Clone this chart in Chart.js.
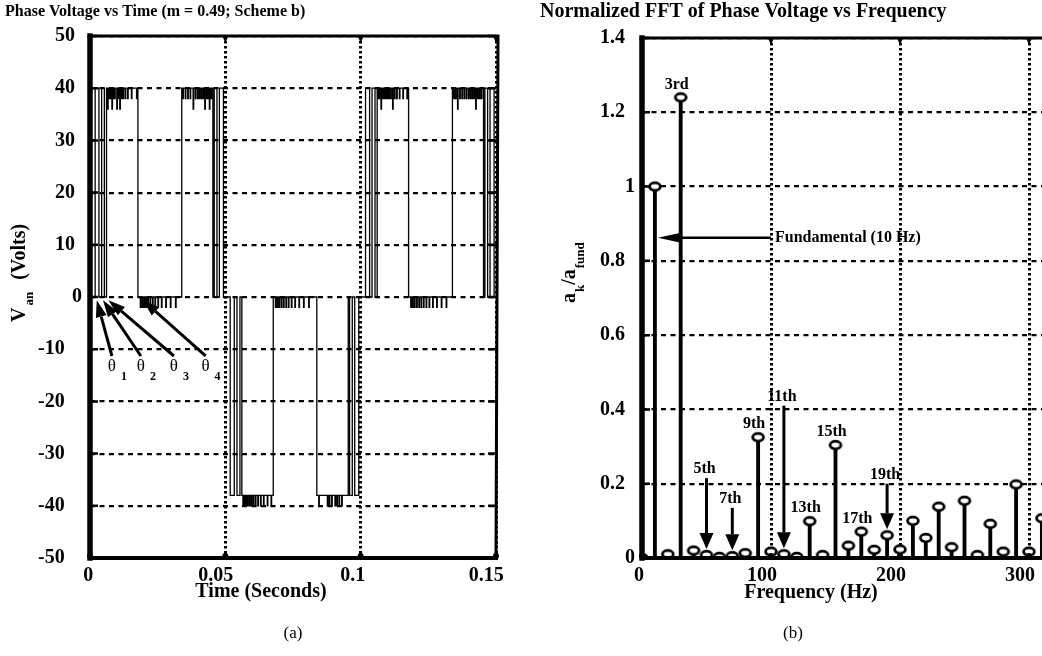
<!DOCTYPE html>
<html>
<head>
<meta charset="utf-8">
<script src="https://cdn.jsdelivr.net/npm/chart.js@4.4.1/dist/chart.umd.min.js"></script>
<style>
  html, body { margin: 0; padding: 0; background: #fff; overflow: hidden; }
  #page { position: relative; width: 1042px; height: 656px; overflow: hidden; }
  #wrapA { position: absolute; left: 0; top: 0; width: 540px; height: 656px; }
  #wrapB { position: absolute; left: 530px; top: 0; width: 580px; height: 656px; }
</style>
</head>
<body>
<div id="page">
  <div id="wrapA"><canvas id="voltChart"></canvas></div>
  <div id="wrapB"><canvas id="fftChart"></canvas></div>
</div>
<script>
// ---- (a) phase voltage, stepped: each [t, V] holds until the next point
const halfA = [
  [0, 0],
  [0.0019, 40], [0.0033, 0], [0.0043, 40], [0.0053, 0],
  [0.0061, 40], [0.0065, 36], [0.0067, 40], [0.0070, 38], [0.0072, 40], [0.0075, 38], [0.0077, 40],
  [0.0081, 36], [0.0083, 40], [0.0086, 38], [0.0088, 40], [0.0091, 38], [0.0093, 40], [0.0099, 36],
  [0.0101, 40], [0.0104, 38], [0.0106, 40], [0.0110, 36], [0.0112, 40], [0.0116, 38], [0.0118, 40],
  [0.0122, 38], [0.0124, 40], [0.0130, 38], [0.0132, 40], [0.0139, 38], [0.0141, 40], [0.0153, 38],
  [0.0155, 40], [0.0172, 38], [0.0174, 40],
  [0.0177, 0], [0.0186, -2], [0.0188, 0], [0.0193, -2], [0.0195, 0], [0.0200, -2], [0.0202, 0],
  [0.0207, -2], [0.0209, 0], [0.0214, -2], [0.0216, 0], [0.0222, -2], [0.0224, 0], [0.0231, -2],
  [0.0233, 0], [0.0240, -2], [0.0242, 0], [0.0251, -2], [0.0253, 0], [0.0264, -2], [0.0266, 0],
  [0.0280, -2], [0.0282, 0], [0.0297, -2], [0.0299, 0], [0.0316, -2], [0.0318, 0],
  [0.0339, 40], [0.0343, 38], [0.0345, 40], [0.0352, 38], [0.0354, 40], [0.0361, 38], [0.0363, 40],
  [0.0370, 38], [0.0372, 40], [0.0381, 36], [0.0383, 40], [0.0389, 38], [0.0391, 40], [0.0397, 38],
  [0.0399, 40], [0.0404, 38], [0.0406, 40], [0.0411, 38], [0.0413, 40], [0.0418, 38], [0.0420, 40],
  [0.0424, 36], [0.0426, 40], [0.0430, 38], [0.0432, 40], [0.0436, 38], [0.0438, 40], [0.0441, 36],
  [0.0443, 40], [0.0447, 38], [0.0449, 40],
  [0.0454, 0], [0.0459, 40], [0.0469, 0], [0.0478, 40], [0.0493, 0]
];
const halfB = [
  [0.0518, -38], [0.0533, 0], [0.0543, -38], [0.0554, 0],
  [0.0561, -38], [0.0565, -40], [0.0567, -38], [0.0570, -40], [0.0572, -38], [0.0576, -40], [0.0578, -38],
  [0.0582, -40], [0.0584, -38], [0.0589, -40], [0.0591, -38], [0.0596, -40], [0.0598, -38], [0.0603, -40],
  [0.0605, -38], [0.0611, -40], [0.0613, -38], [0.0620, -40], [0.0622, -38], [0.0630, -40], [0.0632, -38],
  [0.0641, -40], [0.0643, -38], [0.0655, -40], [0.0657, -38], [0.0669, -40], [0.0671, -38],
  [0.0677, 0], [0.0685, -2], [0.0687, 0], [0.0692, -2], [0.0694, 0], [0.0699, -2], [0.0701, 0],
  [0.0707, -2], [0.0709, 0], [0.0715, -2], [0.0717, 0], [0.0724, -2], [0.0726, 0], [0.0733, -2],
  [0.0735, 0], [0.0744, -2], [0.0746, 0], [0.0757, -2], [0.0759, 0], [0.0772, -2], [0.0774, 0],
  [0.0789, -2], [0.0791, 0], [0.0808, -2], [0.0810, 0],
  [0.0838, -38], [0.0845, -40], [0.0847, -38], [0.0877, -40], [0.0879, -38], [0.0884, -40], [0.0886, -38],
  [0.0893, -40], [0.0895, -38], [0.0905, -40], [0.0907, -38], [0.0912, -40], [0.0914, -38], [0.0920, -40],
  [0.0922, -38], [0.0930, -40], [0.0932, -38],
  [0.0954, 0], [0.0959, -38], [0.0969, 0], [0.0978, -38], [0.0993, 0]
];
const halfC = [
  [0.1018, 40], [0.1033, 0], [0.1042, 40], [0.1053, 0],
  [0.1061, 40], [0.1065, 38], [0.1067, 40], [0.1070, 38], [0.1072, 40], [0.1075, 36], [0.1077, 40],
  [0.1080, 38], [0.1082, 40], [0.1086, 38], [0.1088, 40], [0.1092, 38], [0.1094, 40], [0.1098, 38],
  [0.1100, 40], [0.1104, 38], [0.1106, 40], [0.1111, 38], [0.1113, 40], [0.1118, 36], [0.1120, 40],
  [0.1125, 38], [0.1127, 40], [0.1133, 38], [0.1135, 40], [0.1143, 38], [0.1145, 40], [0.1156, 38],
  [0.1158, 40], [0.1171, 38], [0.1173, 40],
  [0.1177, 0], [0.1185, -2], [0.1187, 0], [0.1192, -2], [0.1194, 0], [0.1199, -2], [0.1201, 0],
  [0.1207, -2], [0.1209, 0], [0.1215, -2], [0.1217, 0], [0.1223, -2], [0.1225, 0], [0.1232, -2],
  [0.1234, 0], [0.1242, -2], [0.1244, 0], [0.1253, -2], [0.1255, 0], [0.1266, -2], [0.1268, 0],
  [0.1281, -2], [0.1283, 0], [0.1298, -2], [0.1300, 0], [0.1316, -2], [0.1318, 0],
  [0.1339, 40], [0.1344, 38], [0.1346, 40], [0.1351, 38], [0.1353, 40], [0.1358, 36], [0.1360, 40],
  [0.1366, 38], [0.1368, 40], [0.1374, 38], [0.1376, 40], [0.1382, 38], [0.1384, 40], [0.1390, 38],
  [0.1392, 40], [0.1398, 38], [0.1400, 40], [0.1405, 38], [0.1407, 40], [0.1412, 38], [0.1414, 40],
  [0.1419, 38], [0.1421, 40], [0.1425, 36], [0.1427, 40], [0.1432, 38], [0.1434, 40], [0.1439, 38],
  [0.1441, 40], [0.1446, 38], [0.1448, 40],
  [0.1454, 0], [0.1459, 40], [0.1469, 0], [0.1478, 40], [0.1493, 0], [0.15, 0]
];
// switching angles pointed at in (a): arrow tip / tail times (s)
const thetaTipT = [0.0025, 0.0048, 0.0068, 0.0195];
const thetaTailT = [0.0081, 0.0188, 0.0310, 0.0427];

// ---- (b) normalized FFT
const harmonicHz = [0, 10, 20, 30, 40, 50, 60, 70, 80, 90, 100, 110, 120, 130, 140, 150,
  160, 170, 180, 190, 200, 210, 220, 230, 240, 250, 260, 270, 280, 290, 300, 310];
const harmonicAmp = [0, 1.0, 0.01, 1.24, 0.02, 0.008, 0.003, 0.005, 0.013, 0.325, 0.017, 0.01,
  0.003, 0.099, 0.008, 0.304, 0.033, 0.071, 0.022, 0.061, 0.023, 0.1, 0.054, 0.138, 0.029, 0.154,
  0.008, 0.092, 0.017, 0.198, 0.017, 0.107];
const tagOrder = [3, 9, 13, 15, 17];
const tagText = ['3rd', '9th', '13th', '15th', '17th'];
const arrowOrder = [5, 7, 11, 19];
const arrowText = ['5th', '7th', '11th', '19th'];
const arrowTop = [0.215, 0.135, 0.41, 0.2];

const SERIF = '"Liberation Serif", "Times New Roman", serif';

function arrow(ctx, x0, y0, x1, y1, headLen, headHalf, width) {
  const a = Math.atan2(y1 - y0, x1 - x0);
  const bx = x1 - headLen * Math.cos(a), by = y1 - headLen * Math.sin(a);
  ctx.save();
  ctx.strokeStyle = '#000';
  ctx.fillStyle = '#000';
  ctx.lineWidth = width;
  ctx.beginPath();
  ctx.moveTo(x0, y0);
  ctx.lineTo(bx, by);
  ctx.stroke();
  ctx.beginPath();
  ctx.moveTo(x1, y1);
  ctx.lineTo(bx + headHalf * Math.sin(a), by - headHalf * Math.cos(a));
  ctx.lineTo(bx - headHalf * Math.sin(a), by + headHalf * Math.cos(a));
  ctx.closePath();
  ctx.fill();
  ctx.restore();
}

function text(ctx, s, x, y, font, align) {
  ctx.save();
  ctx.font = font;
  ctx.fillStyle = '#000';
  ctx.textAlign = align || 'left';
  ctx.textBaseline = 'middle';
  ctx.fillText(s, x, y);
  ctx.restore();
}

// rotated axis title built from pieces (subscripts get a dy)
function rotated(ctx, x, y, parts) {
  ctx.save();
  ctx.translate(x, y);
  ctx.rotate(-Math.PI / 2);
  ctx.fillStyle = '#000';
  ctx.textBaseline = 'alphabetic';
  let pos = 0;
  parts.forEach(p => {
    ctx.font = p.font;
    pos += p.gap || 0;
    ctx.fillText(p.text, pos, p.dy || 0);
    pos += ctx.measureText(p.text).width;
  });
  ctx.restore();
}

const num = v => String(Math.round(v * 1e6) / 1e6);

// frame, inward ticks and the shifted tick labels of both plots
function frameAndTicks(chart, o) {
  const {ctx, chartArea: a, scales: {x, y}} = chart;
  ctx.save();
  ctx.strokeStyle = '#000';
  ctx.fillStyle = '#000';
  ctx.lineWidth = 2.5;
  ctx.beginPath();
  y.ticks.forEach(t => {
    const py = y.getPixelForValue(t.value);
    ctx.moveTo(a.left, py); ctx.lineTo(a.left + 8, py);
    if (o.right) { ctx.moveTo(a.right, py); ctx.lineTo(a.right - 8, py); }
  });
  ctx.stroke();
  x.ticks.forEach(t => {
    const px = x.getPixelForValue(t.value);
    ctx.beginPath();
    ctx.moveTo(px - 3, a.top); ctx.lineTo(px + 3, a.top); ctx.lineTo(px, a.top + 7);
    ctx.closePath(); ctx.fill();
    ctx.beginPath();
    ctx.arc(px, a.bottom - 2, 3, 0, Math.PI * 2); ctx.fill();
  });
  ctx.lineCap = 'square';
  ctx.lineWidth = 3;
  ctx.beginPath();
  ctx.moveTo(a.left, a.top); ctx.lineTo(a.right + 2, a.top);
  if (o.right) { ctx.lineTo(a.right, a.bottom); }
  ctx.stroke();
  ctx.lineWidth = 4;
  ctx.beginPath();
  ctx.moveTo(a.left, a.bottom); ctx.lineTo(a.right, a.bottom);
  ctx.stroke();
  ctx.lineWidth = 5.5;
  ctx.beginPath();
  ctx.moveTo(a.left, a.top); ctx.lineTo(a.left, a.bottom);
  ctx.stroke();
  ctx.restore();

  const f = 'bold 20px ' + SERIF;
  y.ticks.forEach(t => {
    const s = num(t.value);
    text(ctx, s, a.left - o.yGap - s.length * o.yStep, y.getPixelForValue(t.value), f);
  });
  x.ticks.forEach(t => {
    const s = num(t.value);
    text(ctx, s, x.getPixelForValue(t.value) - s.length * o.xStep, a.bottom + 18, f);
  });
}

const voltDecor = {
  id: 'voltDecor',
  afterDraw(chart) {
    const {ctx, scales: {x, y}} = chart;
    frameAndTicks(chart, {right: true, yGap: 1, yStep: 17, xStep: 6.8});
    text(ctx, 'Phase Voltage vs Time (m = 0.49; Scheme b)', 5, 12, 'bold 16px ' + SERIF);
    text(ctx, 'Time (Seconds)', 261, 592, 'bold 20px ' + SERIF, 'center');
    text(ctx, '(a)', 293, 634, '17px ' + SERIF, 'center');
    rotated(ctx, 25, 322, [
      {text: 'V', font: 'bold 20px ' + SERIF},
      {text: 'an', font: 'bold 13px ' + SERIF, dy: 8, gap: 2},
      {text: '(Volts)', font: 'bold 20px ' + SERIF, gap: 12}
    ]);
    const tipY = y.getPixelForValue(-0.6), tailY = y.getPixelForValue(-11.3);
    thetaTipT.forEach((t, i) => {
      const tx = x.getPixelForValue(thetaTailT[i]);
      arrow(ctx, tx, tailY, x.getPixelForValue(t), tipY, 17, 5.5, 3);
      text(ctx, '\u03b8', tx, tailY + 11, '17px ' + SERIF, 'center');
      text(ctx, String(i + 1), tx + 12, tailY + 21, 'bold 12px ' + SERIF, 'center');
    });
  }
};

const fftDecor = {
  id: 'fftDecor',
  afterDraw(chart) {
    const {ctx, scales: {x, y}} = chart;
    frameAndTicks(chart, {right: false, yGap: 4.5, yStep: 12.5, xStep: 8});
    text(ctx, 'Normalized FFT of Phase Voltage vs Frequency', 10, 12, 'bold 20px ' + SERIF);
    text(ctx, 'Frequency (Hz)', 281, 593, 'bold 20px ' + SERIF, 'center');
    text(ctx, '(b)', 263, 634, '17px ' + SERIF, 'center');
    rotated(ctx, 45, 303, [
      {text: 'a', font: 'bold 20px ' + SERIF},
      {text: 'k', font: 'bold 13px ' + SERIF, dy: 9, gap: 1},
      {text: '/a', font: 'bold 20px ' + SERIF},
      {text: 'fund', font: 'bold 13px ' + SERIF, dy: 9, gap: 1}
    ]);
    const amp = hz => harmonicAmp[harmonicHz.indexOf(hz)];
    const lf = 'bold 16px ' + SERIF;
    tagOrder.forEach((n, i) => {
      text(ctx, tagText[i], x.getPixelForValue(n * 10) - 4, y.getPixelForValue(amp(n * 10)) - 13, lf, 'center');
    });
    arrowOrder.forEach((n, i) => {
      const px = x.getPixelForValue(n * 10);
      const top = y.getPixelForValue(arrowTop[i]);
      arrow(ctx, px, top, px, y.getPixelForValue(amp(n * 10)) - 6, 16, 7, 3);
      text(ctx, arrowText[i], px - 2, top - 9, lf, 'center');
    });
    const fy = y.getPixelForValue(0.862);
    arrow(ctx, x.getPixelForValue(100), fy, x.getPixelForValue(10) + 3, fy, 23, 5, 2.5);
    text(ctx, 'Fundamental (10 Hz)', x.getPixelForValue(100) + 4, fy, lf);
  }
};

// open ring used as the stem marker
const ring = document.createElement('canvas');
ring.width = 18;
ring.height = 14;
const rc = ring.getContext('2d');
rc.beginPath();
rc.ellipse(9, 7, 5.4, 3.8, 0, 0, Math.PI * 2);
rc.fillStyle = '#fff';
rc.fill();
rc.lineWidth = 2.8;
rc.strokeStyle = '#000';
rc.stroke();

const gridX = {color: '#000', lineWidth: 3, drawTicks: false};
const gridY = {color: '#000', lineWidth: 2.2, drawTicks: false};

new Chart(document.getElementById('voltChart'), {
  type: 'scatter',
  data: {
    datasets: [{
      type: 'line',
      data: [...halfA, ...halfB, ...halfC],
      stepped: true,
      borderColor: '#000',
      borderWidth: 1.3,
      pointRadius: 0,
      fill: false
    }]
  },
  options: {
    responsive: true,
    maintainAspectRatio: false,
    animation: false,
    events: [],
    layout: {padding: {left: 0, top: 36, right: 44, bottom: 0}},
    plugins: {legend: {display: false}, tooltip: {enabled: false}},
    scales: {
      x: {
        type: 'linear', min: 0, max: 0.15,
        ticks: {stepSize: 0.05, display: false},
        grid: gridX,
        border: {display: false, dash: [2.5, 2.5]},
        afterFit: s => { s.height = 98; }
      },
      y: {
        min: -50, max: 50,
        ticks: {stepSize: 10, display: false},
        grid: gridY,
        border: {display: false, dash: [5, 4.5]},
        afterFit: s => { s.width = 90; }
      }
    }
  },
  plugins: [voltDecor]
});

new Chart(document.getElementById('fftChart'), {
  type: 'scatter',
  data: {
    datasets: [
      {
        data: harmonicHz.map((f, i) => ({x: f, y: harmonicAmp[i]})),
        pointStyle: ring,
        pointRadius: 6,
        order: 0
      },
      {
        type: 'bar',
        data: harmonicHz.map((f, i) => ({x: f, y: harmonicAmp[i]})),
        backgroundColor: '#000',
        borderWidth: 0,
        barThickness: 3.2,
        grouped: false,
        order: 1
      }
    ]
  },
  options: {
    responsive: true,
    maintainAspectRatio: false,
    animation: false,
    events: [],
    layout: {padding: {left: 0, top: 38, right: 29.4, bottom: 0}},
    plugins: {legend: {display: false}, tooltip: {enabled: false}},
    scales: {
      x: {
        type: 'linear', min: 0, max: 340, offset: false,
        ticks: {stepSize: 100, display: false, includeBounds: false},
        grid: Object.assign({offset: false}, gridX),
        border: {display: false, dash: [2.5, 2.5]},
        afterFit: s => { s.height = 98; }
      },
      y: {
        min: 0, max: 1.4,
        ticks: {stepSize: 0.2, display: false},
        grid: gridY,
        border: {display: false, dash: [5, 4.5]},
        afterFit: s => { s.width = 112; }
      }
    }
  },
  plugins: [fftDecor]
});
</script>
</body>
</html>
